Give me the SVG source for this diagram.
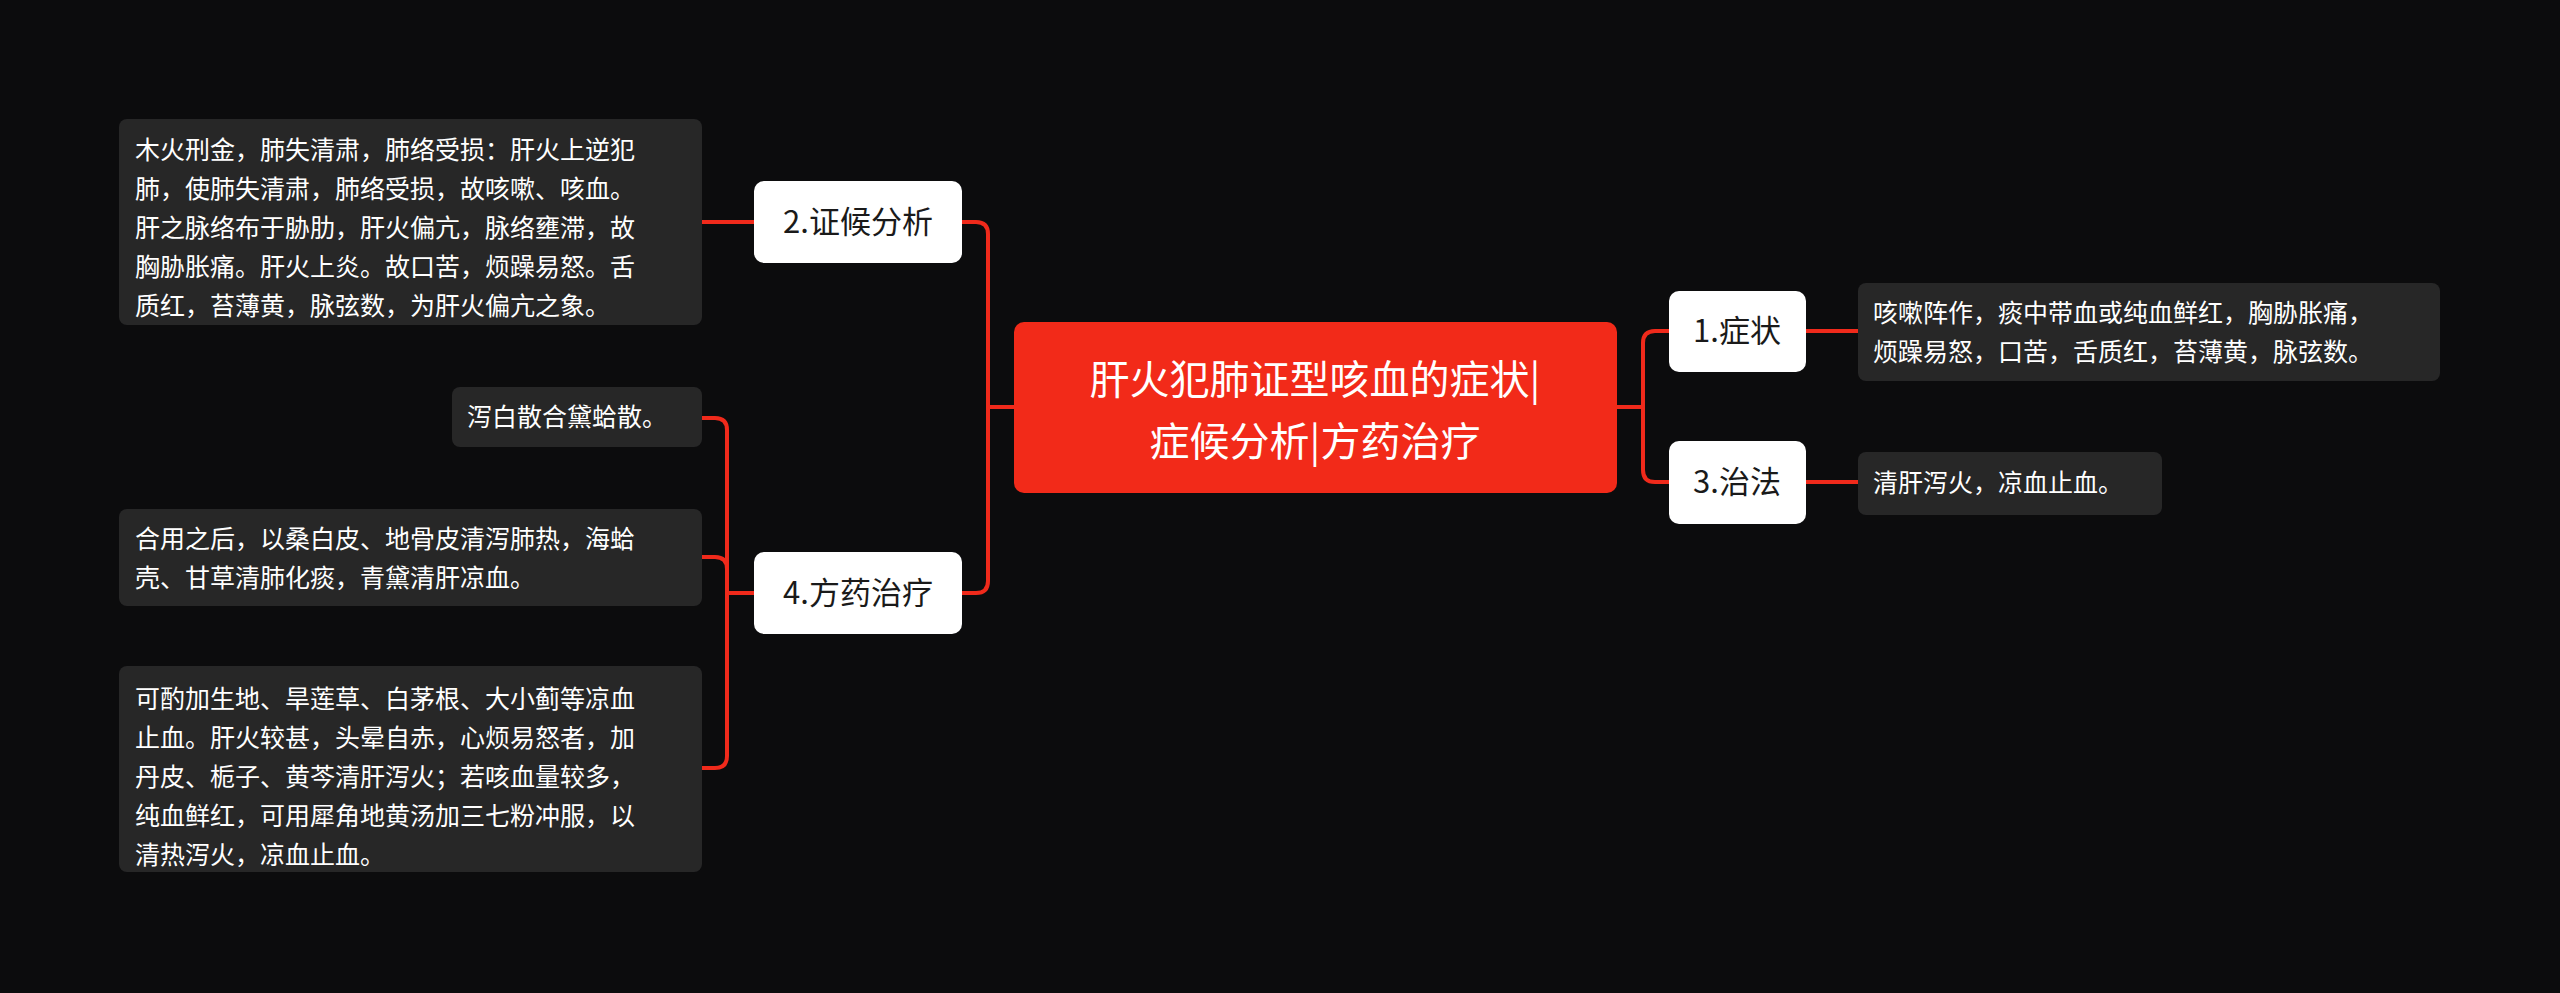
<svg xmlns="http://www.w3.org/2000/svg" width="2560" height="993" viewBox="0 0 2560 993">
<style>
text{font-family:"Noto Sans CJK SC","Liberation Sans",sans-serif;}
.d rect{fill:#272727}
.d text{fill:#ffffff;font-size:25px}
.c rect{fill:#ffffff}
.c text{fill:#1a1a1a;font-size:31px;text-anchor:middle}
.ln path{fill:none;stroke:#f02a1b;stroke-width:4}
</style>
<rect width="2560" height="993" fill="#0c0c0d"/>
<g class="ln">
<path d="M1014 407 H988"/>
<path d="M962 222 H976 Q988 222 988 234 V581 Q988 593 976 593 H962"/>
<path d="M1617 407 H1643"/>
<path d="M1669 331 H1655 Q1643 331 1643 343 V470 Q1643 482 1655 482 H1669"/>
<path d="M1806 331 H1858"/>
<path d="M1806 482 H1858"/>
<path d="M754 222 H702"/>
<path d="M754 593 H727"/>
<path d="M702 418 H715 Q727 418 727 430 V756 Q727 768 715 768 H702"/>
<path d="M702 557 H715 Q727 557 727 569"/>
</g>
<g id="root"><rect x="1014" y="322" width="603" height="171" rx="10" fill="#f22a19"/>
<text x="1315" y="394" font-size="40" fill="#fff" text-anchor="middle">肝火犯肺证型咳血的症状|</text>
<text x="1315" y="456" font-size="40" fill="#fff" text-anchor="middle">症候分析|方药治疗</text></g>
<g id="n1" class="c"><rect x="1669" y="291" width="137" height="81" rx="10"/><text x="1737" y="342">1.症状</text></g>
<g id="n3" class="c"><rect x="1669" y="441" width="137" height="83" rx="10"/><text x="1737" y="493">3.治法</text></g>
<g id="n2" class="c"><rect x="754" y="181" width="208" height="82" rx="10"/><text x="858" y="233">2.证候分析</text></g>
<g id="n4" class="c"><rect x="754" y="552" width="208" height="82" rx="10"/><text x="858" y="604">4.方药治疗</text></g>
<g id="d1" class="d"><rect x="1858" y="283" width="582" height="98" rx="8"/>
<text x="1873" y="322">咳嗽阵作，痰中带血或纯血鲜红，胸胁胀痛，</text>
<text x="1873" y="361">烦躁易怒，口苦，舌质红，苔薄黄，脉弦数。</text></g>
<g id="d3" class="d"><rect x="1858" y="452" width="304" height="63" rx="8"/>
<text x="1873" y="492">清肝泻火，凉血止血。</text></g>
<g id="d2" class="d"><rect x="119" y="119" width="583" height="206" rx="8"/>
<text x="135" y="159">木火刑金，肺失清肃，肺络受损：肝火上逆犯</text>
<text x="135" y="198">肺，使肺失清肃，肺络受损，故咳嗽、咳血。</text>
<text x="135" y="237">肝之脉络布于胁肋，肝火偏亢，脉络壅滞，故</text>
<text x="135" y="276">胸胁胀痛。肝火上炎。故口苦，烦躁易怒。舌</text>
<text x="135" y="315">质红，苔薄黄，脉弦数，为肝火偏亢之象。</text></g>
<g id="d4a" class="d"><rect x="452" y="387" width="250" height="60" rx="8"/>
<text x="467" y="426">泻白散合黛蛤散。</text></g>
<g id="d4b" class="d"><rect x="119" y="509" width="583" height="97" rx="8"/>
<text x="135" y="548">合用之后，以桑白皮、地骨皮清泻肺热，海蛤</text>
<text x="135" y="587">壳、甘草清肺化痰，青黛清肝凉血。</text></g>
<g id="d4c" class="d"><rect x="119" y="666" width="583" height="206" rx="8"/>
<text x="135" y="708">可酌加生地、旱莲草、白茅根、大小蓟等凉血</text>
<text x="135" y="747">止血。肝火较甚，头晕自赤，心烦易怒者，加</text>
<text x="135" y="786">丹皮、栀子、黄芩清肝泻火；若咳血量较多，</text>
<text x="135" y="825">纯血鲜红，可用犀角地黄汤加三七粉冲服，以</text>
<text x="135" y="864">清热泻火，凉血止血。</text></g>
</svg>
